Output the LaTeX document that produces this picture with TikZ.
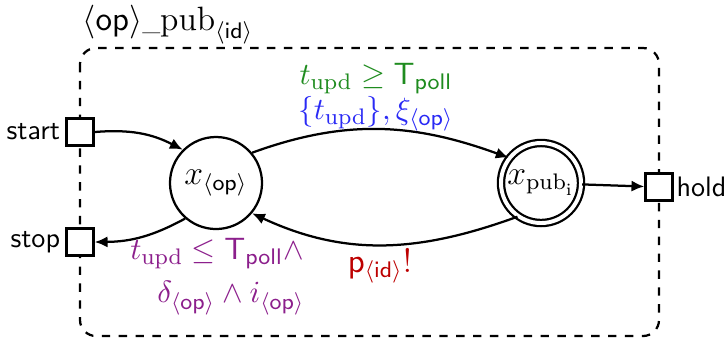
\documentclass[tikz,border=0pt]{standalone}
\usepackage{amsmath, amssymb}
\usepackage{xcolor}
\usepackage{tikz}
\usetikzlibrary{arrows.meta, positioning}
\definecolor{grdgreen}{HTML}{1F8C1F}
\definecolor{rstblue}{HTML}{2A2AF5}
\definecolor{actpurple}{HTML}{8C1F8C}
\definecolor{syncred}{HTML}{BD0000}
\tikzset{
  locnode/.style={circle,draw=black,thick,minimum size=11.5mm,inner sep=1pt,font=\large},
  finnode/.style={locnode,minimum size=10mm,double,double distance=1.4pt},
  portnode/.style={rectangle,draw=black,thick,minimum size=3.4mm,inner sep=0pt,fill=white},
  compbox/.style={draw=black,thick,dashed,rounded corners=2mm},
  trans/.style={-{Latex[length=1.6mm,width=1.4mm]},thick},
  lbl/.style={font=\sffamily,inner sep=0.8pt},
  annot/.style={font=\fontsize{11}{13}\selectfont},
}

\begin{document}
\begin{tikzpicture}[x=0.0125cm,y=-0.0125cm]
  \useasboundingbox (0,0) rectangle (724,344);
  % ---- component frame with its ports ----
  \draw[compbox] (80,48) rectangle (659,336);
  \node[anchor=west,font=\large,inner sep=0pt] (title) at (82,25)
    {$\langle\mathsf{op}\rangle${\footnotesize\_}$\mathrm{pub}_{\langle\mathsf{id}\rangle}$};
  \node[portnode] (start) at (80,132) {};
  \node[portnode] (stop)  at (80,242) {};
  \node[portnode] (hold)  at (659,187) {};
  \node[lbl,left=0.3mm of start] {start};
  \node[lbl,left=0.3mm of stop] {stop};
  \node[lbl,right=0pt of hold] {hold};
  % ---- locations ----
  \node[locnode] (op)  at (216,183) {$x_{\langle\mathsf{op}\rangle}$};
  \node[finnode] (pub) at (541,183) {$x_{\mathrm{pub}_\mathrm{i}}$};
  % ---- transitions ----
  \draw[trans] (start.east) to[bend left=16] (op.135);
  \draw[trans] (op.40) to[out=20,in=160] (pub.142);
  \draw[trans] (pub.235) to[out=200,in=-25] (op.-40);
  \draw[trans] (op.229) to[bend left=14] (stop.east);
  \draw[trans] (pub) -- (hold);
  % ---- guards, resets and actions ----
  \node[annot,text=grdgreen] (grd) at (376,78) {$t_{\mathrm{upd}} \geq \mathsf{T}_{\mathsf{poll}}$};
  \node[annot,text=rstblue] (rst) at (376,114) {$\{t_{\mathrm{upd}}\}, \xi_{\langle\mathsf{op}\rangle}$};
  \node[text=syncred,font=\large] (snc) at (380,266) {$\mathsf{p}_{\langle\mathsf{id}\rangle}!$};
  \node[annot,text=actpurple] (inv1) at (217,253) {$t_{\mathrm{upd}} \leq \mathsf{T}_{\mathsf{poll}}\wedge$};
  \node[annot,text=actpurple] (inv2) at (231,298) {$\delta_{\langle\mathsf{op}\rangle} \wedge i_{\langle\mathsf{op}\rangle}$};
\end{tikzpicture}
\end{document}
